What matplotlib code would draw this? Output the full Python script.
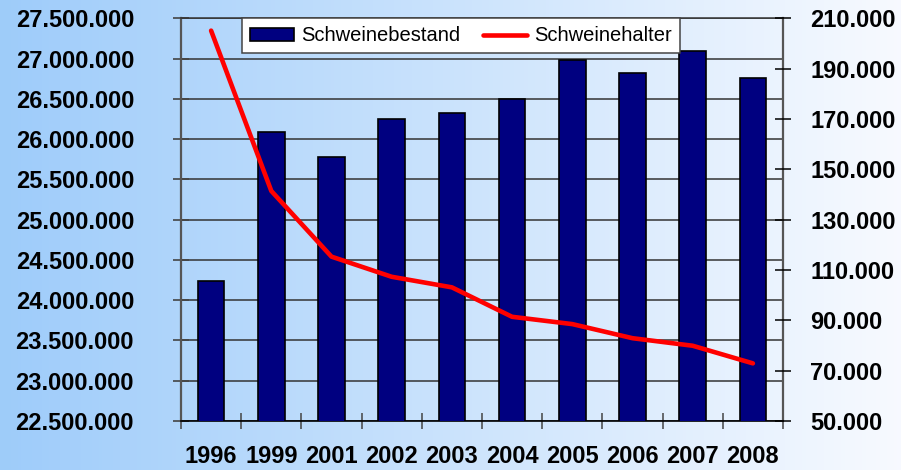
import numpy as np
import matplotlib
matplotlib.use("Agg")
import matplotlib.pyplot as plt
from matplotlib.ticker import FuncFormatter

# --- data ---
years = ["1996", "1999", "2001", "2002", "2003", "2004", "2005", "2006", "2007", "2008"]
schweinebestand = [24240000, 26090000, 25775000, 26250000, 26320000,
                   26495000, 26980000, 26820000, 27100000, 26760000]
schweinehalter = [205100, 141400, 115300, 107300, 103100,
                  91400, 88500, 82900, 79900, 72900]

left_ticks = [22500000 + 500000 * i for i in range(11)]
right_ticks = [50000 + 20000 * i for i in range(9)]

FONT = "Liberation Sans"


def dotted(v, pos=None):
    return f"{v:,.0f}".replace(",", ".")


fig = plt.figure(figsize=(9.01, 4.70), dpi=100)

# background gradient over the whole figure
bg = fig.add_axes([0, 0, 1, 1], zorder=-10)
grad = np.linspace(0, 1, 256).reshape(1, -1)
c0 = np.array([0.62, 0.80, 0.98])
c1 = np.array([0.97, 0.98, 1.00])
img = c0[None, None, :] * (1 - grad[..., None]) + c1[None, None, :] * grad[..., None]
bg.imshow(img, aspect="auto", extent=[0, 1, 0, 1])
bg.set_axis_off()

ax = fig.add_axes([181 / 901, 49 / 470, 602 / 901, 402.7 / 470])
ax.patch.set_alpha(0)

x = np.arange(len(years))
ax.bar(x, schweinebestand, width=0.44, color="#000080", edgecolor="black",
       linewidth=1.2, zorder=3, label="Schweinebestand")
ax.set_xlim(-0.5, len(years) - 0.5)
ax.set_ylim(22500000, 27500000)
ax.set_yticks(left_ticks)
ax.yaxis.set_major_formatter(FuncFormatter(dotted))
ax.yaxis.grid(True, color="#333333", linewidth=1.1, zorder=1)
ax.set_axisbelow(True)

# x ticks at category boundaries, labels at centres
ax.set_xticks(np.arange(len(years) + 1) - 0.5)
ax.set_xticklabels([])
ax.set_xticks(x, minor=True)
ax.set_xticklabels(years, minor=True)
ax.tick_params(axis="x", which="major", direction="inout", length=11.5, width=1.1, color="#444444")
ax.tick_params(axis="x", which="minor", length=0, pad=17)
ax.tick_params(axis="y", direction="inout", length=11.5, width=1.2, color="#444444", pad=28)

for lab in ax.get_xticklabels(minor=True) + ax.get_yticklabels():
    lab.set_fontfamily(FONT)
    lab.set_fontweight("bold")
    lab.set_fontsize(17)

for side in ["left", "right"]:
    ax.spines[side].set_color("#555555")
    ax.spines[side].set_linewidth(1.6)
ax.spines["bottom"].set_color("black")
ax.spines["bottom"].set_linewidth(1.2)
ax.spines["top"].set_color("#333333")
ax.spines["top"].set_linewidth(1.1)

ax2 = ax.twinx()
ax2.plot(x, schweinehalter, color="#ff0000", linewidth=3.3, solid_capstyle="round",
         solid_joinstyle="round", label="Schweinehalter", zorder=4)
ax2.set_ylim(50000, 210000)
ax2.set_yticks(right_ticks)
ax2.yaxis.set_major_formatter(FuncFormatter(dotted))
ax2.tick_params(axis="y", direction="inout", length=11.5, width=1.1, color="black", pad=14)
for lab in ax2.get_yticklabels():
    lab.set_fontfamily(FONT)
    lab.set_fontweight("bold")
    lab.set_fontsize(17)
for sp in ax2.spines.values():
    sp.set_visible(False)

h1, l1 = ax.get_legend_handles_labels()
h2, l2 = ax2.get_legend_handles_labels()
leg = ax2.legend(h1 + h2, l1 + l2, ncol=2, loc="upper left",
                 bbox_to_anchor=(0.1008, 0.0, 0.728, 1.0), mode="expand",
                 borderaxespad=0, frameon=True, fancybox=False, framealpha=1,
                 edgecolor="#444444", facecolor="white",
                 prop={"family": FONT, "size": 14.5},
                 handlelength=2.2, handleheight=0.6, handletextpad=0.35,
                 borderpad=0.4, columnspacing=1.3)
leg.get_frame().set_linewidth(1.1)

fig.savefig("out.png", dpi=100)
